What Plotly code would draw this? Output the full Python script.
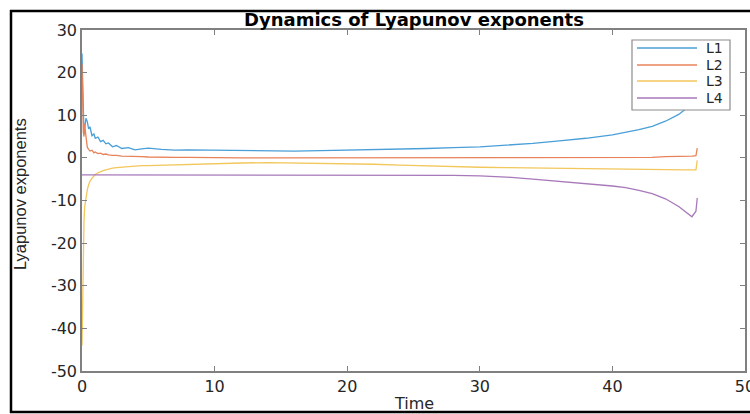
import plotly.graph_objects as go

# ---- data ----
time = [0, 0.05, 0.1, 0.15, 0.2, 0.3, 0.4, 0.5, 0.6, 0.75, 0.9, 1.0, 1.2, 1.4, 1.6,
        1.8, 2.0, 2.3, 2.6, 3.0, 3.5, 4.0, 4.5, 5.0, 6, 7, 8, 10, 12, 14, 16, 18, 20,
        22, 24, 26, 28, 30, 32, 34, 36, 38, 40, 41, 42, 43, 44, 45, 45.5, 46.0, 46.3, 46.4]

L1 = [24.5, 17, 10, 5.5, 7, 9.3, 8.5, 6.8, 7.3, 5.2, 5.6, 4.6, 4.9, 3.8, 4.1, 3.3, 3.5,
      2.6, 2.9, 2.2, 2.4, 1.9, 2.1, 2.3, 2.0, 1.8, 1.9, 1.8, 1.7, 1.6, 1.6, 1.7, 1.8,
      1.9, 2.0, 2.2, 2.4, 2.6, 3.0, 3.4, 4.0, 4.6, 5.4, 6.0, 6.6, 7.4, 8.6, 10.2, 11.4,
      13.2, 14.5, 15.5]

L2 = [22, 12, 6, 5, 8, 5, 2.5, 2.0, 1.6, 1.8, 1.2, 1.4, 1.0, 1.1, 0.8, 0.9, 0.7, 0.6,
      0.6, 0.4, 0.4, 0.3, 0.3, 0.2, 0.1, 0.1, 0.1, 0.0, 0.0, 0.0, 0.0, 0.0, 0.0, 0.0,
      0.0, 0.0, 0.0, 0.0, 0.0, 0.0, 0.0, 0.0, 0.0, 0.0, 0.0, 0.1, 0.3, 0.3, 0.4, 0.4,
      0.5, 2.3]

L3 = [-44, -30, -20, -15, -11.5, -9, -7.5, -6.3, -5.5, -4.8, -4.2, -3.9, -3.5, -3.2,
      -3.0, -2.8, -2.6, -2.4, -2.3, -2.2, -2.0, -1.9, -1.8, -1.8, -1.7, -1.6, -1.5,
      -1.3, -1.2, -1.1, -1.2, -1.2, -1.3, -1.5, -1.7, -1.9, -2.0, -2.2, -2.3, -2.4,
      -2.5, -2.6, -2.6, -2.7, -2.7, -2.7, -2.8, -2.8, -2.8, -2.8, -2.8, -0.6]

L4 = [-4.0, -4.0, -4.0, -4.0, -4.0, -4.0, -4.0, -4.0, -4.0, -4.0, -4.0, -4.0, -4.0,
      -4.0, -4.0, -4.0, -4.0, -4.0, -4.0, -4.0, -4.0, -4.0, -4.0, -4.0, -4.0, -4.0,
      -4.0, -4.0, -4.0, -4.0, -4.0, -4.0, -4.0, -4.0, -4.0, -4.0, -4.1, -4.2, -4.5,
      -5.0, -5.5, -6.0, -6.6, -7.0, -7.6, -8.4, -9.6, -11.4, -12.6, -13.8, -12.5, -9.4]

series_names = ["L1", "L2", "L3", "L4"]
series_values = [L1, L2, L3, L4]
series_colors = ["#4a9fd8", "#e8825a", "#f2c75c", "#a779ba"]

x_ticks = [0, 10, 20, 30, 40, 50]
y_ticks = [30, 20, 10, 0, -10, -20, -30, -40, -50]
y_tick_labels = ["30", "20", "10", "0", "-10", "-20", "-30", "-40", "-50"]

# pixel geometry of plot area (for paper-coordinate helpers)
PX_L, PX_R, PX_T, PX_B = 82, 745, 30, 371
W, H = 750, 414


def px(xp):
    return (xp - PX_L) / (PX_R - PX_L)


def py(yp):
    return (PX_B - yp) / (PX_B - PX_T)


fig = go.Figure()
for name, vals, col in zip(series_names, series_values, series_colors):
    fig.add_trace(go.Scatter(x=time, y=vals, mode="lines", name=name,
                             line=dict(color=col, width=1.3)))

tick_font = dict(family="DejaVu Sans", size=16, color="#262626")
axis_common = dict(showgrid=False, zeroline=False, showline=True, linecolor="#808080",
                   linewidth=1.5, mirror="ticks", ticks="inside", ticklen=5,
                   tickcolor="#808080", tickwidth=1, tickfont=tick_font,
                   ticklabeloverflow="allow", automargin=False)

fig.update_xaxes(range=[0, 50], tickvals=x_ticks, ticktext=[str(v) for v in x_ticks],
                 **axis_common)
fig.update_yaxes(range=[-50, 30], tickvals=y_ticks, ticktext=y_tick_labels, **axis_common)

annotations = [
    dict(text="<b>Dynamics of Lyapunov exponents</b>", xref="paper", yref="paper",
         x=0.5, y=py(19), xanchor="center", yanchor="middle", showarrow=False,
         font=dict(family="DejaVu Sans", size=18, color="black")),
    dict(text="Time", xref="paper", yref="paper", x=0.5, y=py(403),
         xanchor="center", yanchor="middle", showarrow=False,
         font=dict(family="DejaVu Sans", size=16, color="#262626")),
    dict(text="Lyapunov exponents", xref="paper", yref="paper",
         x=px(20), y=py(194), textangle=-90,
         xanchor="center", yanchor="middle", showarrow=False,
         font=dict(family="Liberation Sans", size=16.5, color="#262626")),
]

frame = dict(color="black", width=2.5)
shapes = [
    # outer black frame of the figure (top, left, bottom edges)
    dict(type="line", xref="paper", yref="paper", x0=px(10), x1=px(760),
         y0=py(11), y1=py(11), line=frame, layer="below"),
    dict(type="line", xref="paper", yref="paper", x0=px(11), x1=px(11),
         y0=py(10), y1=py(413), line=frame, layer="below"),
    dict(type="line", xref="paper", yref="paper", x0=px(10), x1=px(760),
         y0=py(412), y1=py(412), line=frame, layer="below"),
    # legend box
    dict(type="rect", xref="paper", yref="paper",
         x0=px(632), x1=px(730), y0=py(110), y1=py(40),
         line=dict(color="#8c8c8c", width=1.2), fillcolor="white", layer="above"),
]

legend_rows = [48, 65, 81, 98]
for name, col, yr in zip(series_names, series_colors, legend_rows):
    shapes.append(dict(type="line", xref="paper", yref="paper",
                       x0=px(637), x1=px(697), y0=py(yr), y1=py(yr),
                       line=dict(color=col, width=1.5), layer="above"))
    annotations.append(dict(text=name, xref="paper", yref="paper", x=px(704), y=py(yr),
                            xanchor="left", yanchor="middle", showarrow=False,
                            font=dict(family="DejaVu Sans", size=14, color="#262626")))

fig.update_layout(
    width=W, height=H,
    margin=dict(l=PX_L, r=W - PX_R, t=PX_T, b=H - PX_B),
    paper_bgcolor="white", plot_bgcolor="white",
    showlegend=False,
    annotations=annotations,
    shapes=shapes,
)

fig.write_html("out.html", config={"displayModeBar": False},
               post_script="document.body.style.margin='0px';")
